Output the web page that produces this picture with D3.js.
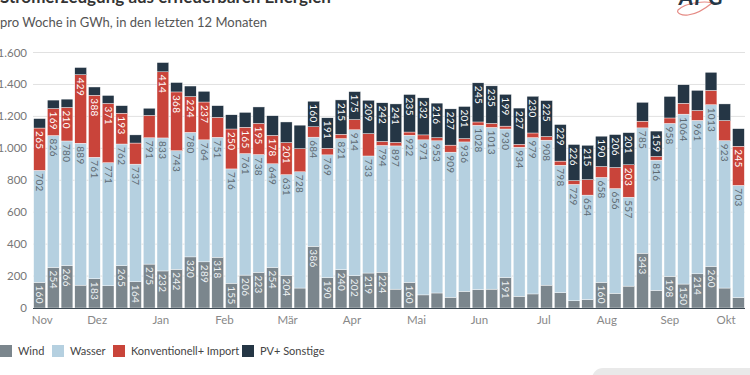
<!DOCTYPE html>
<html>
<head>
<meta charset="utf-8">
<script src="https://cdn.jsdelivr.net/npm/d3@7"></script>
<style>
  body { margin: 0; background: #fff; }
  svg { display: block; font-family: Lato, "Open Sans", sans-serif; }
</style>
</head>
<body>
<script>
// weekly values, GWh
var wind = [160,254,266,143,183,139,265,164,275,232,242,320,289,318,155,206,223,254,204,125,
  386,190,240,202,219,224,118,160,82,94,67,104,116,118,191,73,88,143,96,45,
  53,160,92,137,343,110,198,150,214,260,125,65];
var wasser = [702,826,780,889,761,771,762,737,791,833,743,780,764,751,716,761,738,649,631,728,
  684,769,821,914,733,794,897,922,971,953,909,936,1028,1013,930,934,979,908,798,729,
  654,658,656,557,785,816,958,1064,961,1013,923,703];
var konv = [265,169,210,429,388,371,193,132,140,414,368,224,237,125,250,165,195,178,201,145,
  65,41,27,64,140,25,22,20,31,20,44,21,21,25,18,18,29,23,26,24,
  97,68,132,203,42,23,34,68,62,90,126,245];
var pv = [59,53,52,45,52,50,47,51,45,58,59,66,67,73,89,93,103,123,129,147,
  160,191,215,175,209,242,241,235,232,216,227,201,245,235,199,227,230,225,229,226,
  215,190,206,201,118,159,135,116,126,113,104,110];

// month ticks (position in weeks)
var months = ["Nov","Dez","Jan","Feb","Mär","Apr","Mai","Jun","Jul","Aug","Sep","Okt"];
var monthPos = [0.2,4.2,8.85,13.5,18.1,22.8,27.5,32.1,36.8,41.4,46.0,50.1];
var yTicks = [0,200,400,600,800,1000,1200,1400,1600];

var seriesNames = ["Wind","Wasser","Konventionell+ Import","PV+ Sonstige"];
var colors = ["#7b868d","#b5d0e0","#c9443a","#253645"];
var labelColors = ["#eef2f4","#5d6a72","#ffffff","#ffffff"];

var width = 750, height = 375;

var data = wind.map(function(d, i) {
  return { i: i, wind: d, wasser: wasser[i], konv: konv[i], pv: pv[i] };
});
var keys = ["wind","wasser","konv","pv"];
var stacked = d3.stack().keys(keys)(data);

var svg = d3.select("body").append("svg")
  .attr("width", width)
  .attr("height", height);

var x = d3.scaleBand()
  .domain(data.map(function(d) { return d.i; }))
  .range([33, 745])
  .paddingInner(0.14)
  .paddingOuter(0.05);

var y = d3.scaleLinear().domain([0, 1600]).range([308, 52.5]);

// title + subtitle
svg.append("text")
  .attr("x", 0).attr("y", 3)
  .style("font-size", "17px").style("font-weight", "700").style("fill", "#333")
  .text("Stromerzeugung aus erneuerbaren Energien");
svg.append("text")
  .attr("x", 0).attr("y", 27)
  .style("font-size", "13px").style("fill", "#555")
  .text("pro Woche in GWh, in den letzten 12 Monaten");

// logo (cut off at top)
var logo = svg.append("g").attr("transform", "translate(676,0)");
logo.append("path")
  .attr("d", "M2,10 C10,2 30,1 36,3 C30,8 22,14 12,15 C6,16 0,13 2,10 Z")
  .style("fill", "none").style("stroke", "#e58a84").style("stroke-width", 1.2);
logo.append("text")
  .attr("x", 3).attr("y", 5)
  .style("font-size", "22px").style("font-weight", "700").style("font-style", "italic")
  .style("fill", "#253645").style("letter-spacing", "1px")
  .text("APG");

// grid
svg.append("g").selectAll("line")
  .data(yTicks.filter(function(t) { return t > 0; }))
  .join("line")
  .attr("x1", 33).attr("x2", 745)
  .attr("y1", function(d) { return y(d); }).attr("y2", function(d) { return y(d); })
  .style("stroke", "#e1e1e1").style("stroke-width", 1);

// y labels
svg.append("g").selectAll("text")
  .data(yTicks)
  .join("text")
  .attr("x", 27).attr("y", function(d) { return y(d); })
  .attr("dy", "0.35em")
  .attr("text-anchor", "end")
  .style("font-size", "11.5px").style("fill", "#777")
  .text(function(d) { return d3.format(",")(d).replace(/,/g, "."); });

// bars
var layer = svg.append("g").selectAll("g")
  .data(stacked)
  .join("g")
  .style("fill", function(d, k) { return colors[k]; });

layer.selectAll("rect")
  .data(function(d) { return d; })
  .join("rect")
  .attr("x", function(d) { return x(d.data.i); })
  .attr("y", function(d) { return y(d[1]); })
  .attr("width", x.bandwidth())
  .attr("height", function(d) { return y(d[0]) - y(d[1]); })
  .style("stroke", "#fff").style("stroke-width", 0.4);

// data labels, rotated, at top of segment
var lab = svg.append("g");
stacked.forEach(function(s, k) {
  lab.selectAll(null)
    .data(s.filter(function(d) { return d[1] - d[0] >= 150; }))
    .join("text")
    .attr("transform", function(d) {
      return "translate(" + (x(d.data.i) + x.bandwidth() / 2) + "," + (y(d[1]) + 3) + ") rotate(90)";
    })
    .attr("dy", "0.35em")
    .style("font-size", "10px")
    .style("letter-spacing", "0.3px")
    .style("fill", labelColors[k])
    .text(function(d) { return d[1] - d[0]; });
});

// x axis line
svg.append("line")
  .attr("x1", 33).attr("x2", 745)
  .attr("y1", 308.5).attr("y2", 308.5)
  .style("stroke", "#3d4953").style("stroke-width", 1.2);

// month labels
svg.append("g").selectAll("text")
  .data(months)
  .join("text")
  .attr("x", function(d, i) { return x(0) + x.bandwidth() / 2 + monthPos[i] * x.step(); })
  .attr("y", 324)
  .attr("text-anchor", "middle")
  .style("font-size", "11.5px").style("fill", "#888")
  .text(function(d) { return d; });

// legend
var legX = [0, 52, 113, 242];
var leg = svg.append("g").selectAll("g")
  .data(seriesNames)
  .join("g")
  .attr("transform", function(d, i) { return "translate(" + legX[i] + ",345)"; });
leg.append("rect")
  .attr("width", 12).attr("height", 12)
  .style("fill", function(d, i) { return colors[i]; });
leg.append("text")
  .attr("x", 18).attr("y", 6).attr("dy", "0.35em")
  .style("font-size", "11px").style("fill", "#444")
  .text(function(d) { return d; });

// cut-off button bottom right
svg.append("rect")
  .attr("x", 592).attr("y", 368).attr("width", 170).attr("height", 22).attr("rx", 11)
  .style("fill", "#e9e9e9");
</script>
</body>
</html>
